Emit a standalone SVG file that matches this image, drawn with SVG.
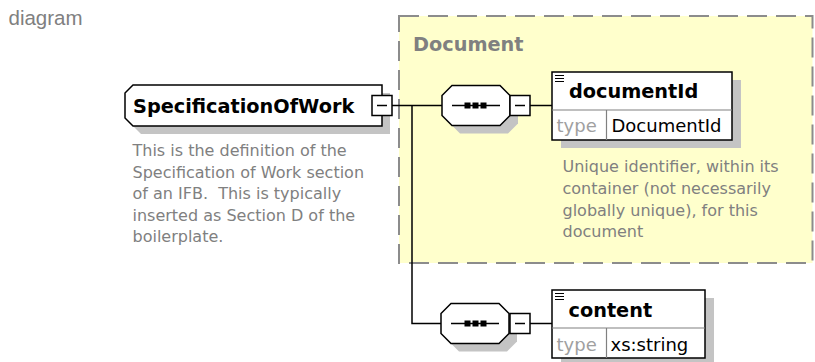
<svg xmlns="http://www.w3.org/2000/svg" width="815" height="362" viewBox="0 0 815 362">
<style>
.hdr{font-family:"Liberation Sans",Arial,sans-serif;font-size:20.5px;fill:#808080}
.title{font-family:"DejaVu Sans",Verdana,sans-serif;font-weight:bold;font-size:19.3px;fill:#000}
.grp{font-family:"DejaVu Sans",Verdana,sans-serif;font-weight:bold;font-size:19.3px;fill:#808080}
.desc{font-family:"DejaVu Sans",Verdana,sans-serif;font-size:16px;fill:#808080;white-space:pre}
.tk{font-family:"DejaVu Sans",Verdana,sans-serif;font-size:18px;fill:#a0a0a0}
.tv{font-family:"DejaVu Sans",Verdana,sans-serif;font-size:18px;fill:#000}
.box{fill:#fff;stroke:#000;stroke-width:1.5}
.shadow{fill:#c4c4c4}
.conn{stroke:#000;stroke-width:1.5;fill:none}
.ln{stroke:#000;stroke-width:1.5;fill:none}
.sep{stroke:#808080;stroke-width:1.2;fill:none}
.dot{fill:#000}
</style>
<defs>
<polygon id="oct" points="10,0 58,0 68,10 68,30 58,40 10,40 0,30 0,10"/>
<g id="minus"><rect class="box" x="0" y="0" width="20" height="20"/><path class="ln" d="M5 10H15"/></g>
<g id="icon"><path d="M0 0.5H9M0 3.5H9M0 6.5H9" stroke="#000" stroke-width="1.2"/></g>
</defs>
<rect width="815" height="362" fill="#fff"/>
<text class="hdr" x="8.5" y="25">diagram</text>

<g id="group-Document">
<rect x="399" y="16" width="413.5" height="247" fill="#ffffcc" stroke="#8c8c8c" stroke-width="2" stroke-dasharray="20 9"/>
<text class="grp" x="413" y="50.5">Document</text>
</g>

<g id="connectors">
<path class="conn" d="M392 105.5H442"/>
<path class="conn" d="M412 105.5V323.5H441"/>
<path class="conn" d="M530 105.5H552"/>
<path class="conn" d="M530 323.5H552"/>
</g>

<g id="SpecificationOfWork">
<polygon class="shadow" points="141,93 390,93 390,134 141,134 133,126 133,101"/>
<polygon class="box" points="133,85 382,85 382,126 133,126 125,118 125,93"/>
<text class="title" x="133" y="112.5">SpecificationOfWork</text>
<use href="#minus" x="372" y="95.5"/>
<text class="desc" x="132.5" y="156">This is the definition of the</text>
<text class="desc" x="132.5" y="177.5">Specification of Work section</text>
<text class="desc" x="132.5" y="199">of an IFB.  This is typically</text>
<text class="desc" x="132.5" y="220.5">inserted as Section D of the</text>
<text class="desc" x="132.5" y="242">boilerplate.</text>
</g>

<g id="sequence1">
<use href="#oct" class="shadow" x="450" y="93.5"/>
<use href="#oct" class="box" x="442" y="85.5"/>
<path class="ln" d="M452 105.5H500"/>
<rect class="dot" x="464.5" y="102.5" width="6" height="6"/>
<rect class="dot" x="472.5" y="102.5" width="6" height="6"/>
<rect class="dot" x="480.5" y="102.5" width="6" height="6"/>
<use href="#minus" x="510" y="95.5"/>
</g>

<g id="documentId">
<rect class="shadow" x="561" y="80" width="180" height="68"/>
<rect class="box" x="552" y="72" width="180" height="68"/>
<path class="sep" d="M552 110H732M606.5 110V140"/>
<use href="#icon" x="555" y="75"/>
<text class="title" x="569" y="98.3">documentId</text>
<text class="tk" x="556.5" y="131.7">type</text>
<text class="tv" x="611.5" y="131.7">DocumentId</text>
<text class="desc" x="562.5" y="172">Unique identifier, within its</text>
<text class="desc" x="562.5" y="194">container (not necessarily</text>
<text class="desc" x="562.5" y="215.5">globally unique), for this</text>
<text class="desc" x="562.5" y="237">document</text>
</g>

<g id="sequence2">
<use href="#oct" class="shadow" x="449" y="311.5"/>
<use href="#oct" class="box" x="441" y="303.5"/>
<path class="ln" d="M451 323.5H499"/>
<rect class="dot" x="464.5" y="320.5" width="6" height="6"/>
<rect class="dot" x="472.5" y="320.5" width="6" height="6"/>
<rect class="dot" x="480.5" y="320.5" width="6" height="6"/>
<use href="#minus" x="510" y="313.5"/>
</g>

<g id="content">
<rect class="shadow" x="561" y="298" width="153" height="68"/>
<rect class="box" x="552" y="290" width="153" height="68"/>
<path class="sep" d="M552 328H705M606.5 328V358"/>
<use href="#icon" x="555" y="293"/>
<text class="title" x="568.5" y="316.5">content</text>
<text class="tk" x="556.5" y="350.5">type</text>
<text class="tv" x="610.5" y="350.5">xs:string</text>
</g>
</svg>
